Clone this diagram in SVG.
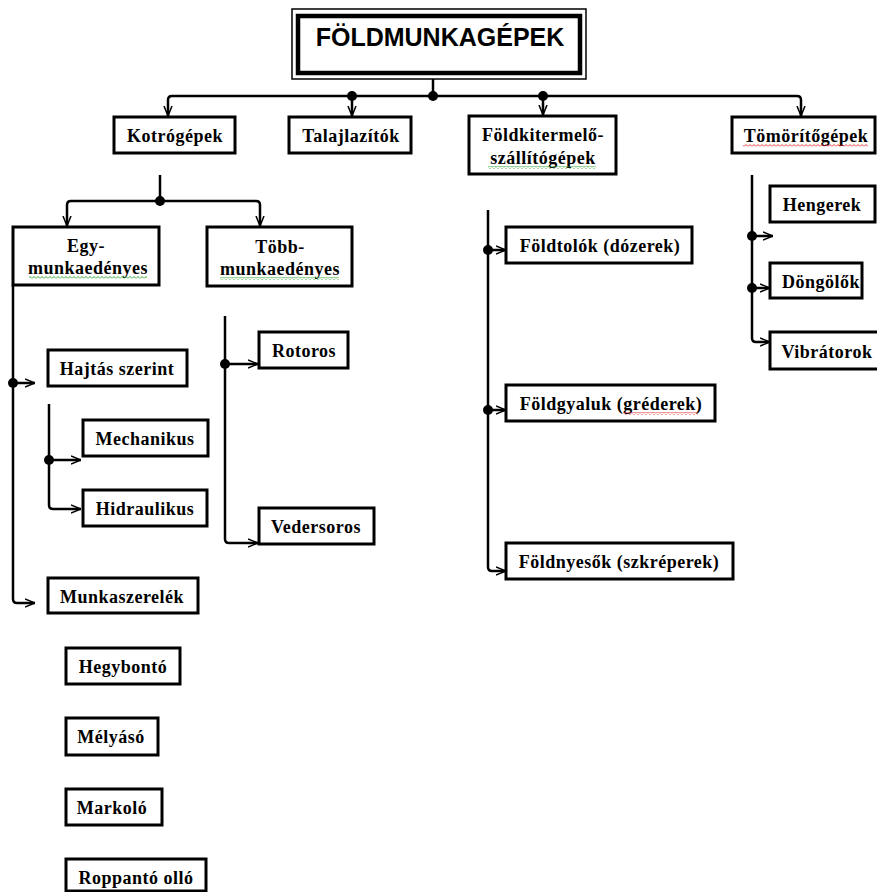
<svg xmlns="http://www.w3.org/2000/svg" width="877" height="892" viewBox="0 0 877 892">
<style>
.box{fill:#fff;stroke:#000;stroke-width:3}
.t{font-family:"Liberation Serif","Times New Roman",serif;font-weight:bold;font-size:18px;letter-spacing:0.5px;fill:#000;text-anchor:middle}
.ln{fill:none;stroke:#000;stroke-width:2.5}
.ar{marker-end:url(#ah)}
.dot{fill:#000}
</style>
<defs>
<marker id="ah" viewBox="0 0 10 10" markerWidth="10" markerHeight="10" markerUnits="userSpaceOnUse" refX="10" refY="5" orient="auto">
<path d="M0,1 L10,5 L0,9" fill="none" stroke="#000" stroke-width="1.5"/>
</marker>
<pattern id="wr" width="4" height="3" patternUnits="userSpaceOnUse">
<path d="M0,2.5 L2,0.5 L4,2.5" fill="none" stroke="#e02020" stroke-width="0.9"/>
</pattern>
<pattern id="wg" width="4" height="3" patternUnits="userSpaceOnUse">
<path d="M0,2.5 L2,0.5 L4,2.5" fill="none" stroke="#20a020" stroke-width="0.9"/>
</pattern>
</defs>
<rect width="877" height="892" fill="#fff"/>

<g id="connectors">
<path class="ln" d="M433,79 V96"/>
<path class="ln ar" d="M433,96 H172 Q168,96 168,100 V116"/>
<path class="ln ar" d="M433,96 H797 Q801,96 801,100 V116"/>
<path class="ln ar" d="M352,96 V116"/>
<path class="ln ar" d="M543,96 V115"/>
<circle class="dot" cx="352" cy="96" r="5"/>
<circle class="dot" cx="433" cy="96" r="5"/>
<circle class="dot" cx="543" cy="96" r="5"/>

<path class="ln" d="M160,175 V201"/>
<path class="ln ar" d="M160,201 H71 Q67,201 67,205 V226"/>
<path class="ln ar" d="M160,201 H256 Q260,201 260,205 V226"/>
<circle class="dot" cx="160" cy="201" r="5"/>

<path class="ln ar" d="M13,285 V599 Q13,603 17,603 H35"/>
<path class="ln ar" d="M13,383 H35"/>
<circle class="dot" cx="13" cy="383" r="5"/>

<path class="ln ar" d="M49,404 V505 Q49,509 53,509 H81"/>
<path class="ln ar" d="M49,460 H81"/>
<circle class="dot" cx="49" cy="460" r="5"/>

<path class="ln ar" d="M225,316 V539 Q225,543 229,543 H258"/>
<path class="ln ar" d="M225,364 H258"/>
<circle class="dot" cx="225" cy="364" r="5"/>

<path class="ln ar" d="M488,210 V567 Q488,571 492,571 H506"/>
<path class="ln ar" d="M488,250 H506"/>
<path class="ln ar" d="M488,410 H506"/>
<circle class="dot" cx="488" cy="250" r="5"/>
<circle class="dot" cx="488" cy="410" r="5"/>

<path class="ln ar" d="M752,175 V338 Q752,342 756,342 H770"/>
<path class="ln ar" d="M752,236 H773"/>
<path class="ln ar" d="M752,288 H770"/>
<circle class="dot" cx="752" cy="236" r="5"/>
<circle class="dot" cx="752" cy="288" r="5"/>
</g>

<g id="title">
<rect x="292" y="9" width="294" height="70" fill="#fff" stroke="#000" stroke-width="1.5"/>
<rect x="298" y="16" width="282" height="57" fill="#fff" stroke="#000" stroke-width="4.5"/>
<text x="440" y="46" text-anchor="middle" font-family="'Liberation Sans',Arial,sans-serif" font-weight="bold" font-size="25" fill="#000">FÖLDMUNKAGÉPEK</text>
</g>

<g id="kotrogepek"><rect class="box" x="114" y="117" width="121" height="36"/><text class="t" x="175" y="142">Kotrógépek</text></g>
<g id="talajlazitok"><rect class="box" x="289" y="117" width="122" height="36"/><text class="t" x="351" y="142">Talajlazítók</text></g>
<g id="foldkitermelo"><rect class="box" x="469" y="116" width="147" height="58"/><text class="t" x="543" y="141">Földkitermelő-</text><text class="t" x="543" y="164">szállítógépek</text><rect x="488" y="166" width="108" height="3" fill="url(#wg)"/></g>
<g id="tomoritogepek"><rect class="box" x="732" y="117" width="143" height="36"/><text class="t" x="806" y="142">Tömörítőgépek</text><rect x="743" y="144" width="125" height="3" fill="url(#wr)"/></g>

<g id="egy"><rect class="box" x="13" y="227" width="146" height="58"/><text class="t" x="86" y="252">Egy-</text><text class="t" x="88" y="274">munkaedényes</text><rect x="29" y="276" width="118" height="3" fill="url(#wg)"/></g>
<g id="tobb"><rect class="box" x="207" y="227" width="145" height="59"/><text class="t" x="280" y="253">Több-</text><text class="t" x="280" y="275">munkaedényes</text><rect x="220" y="277" width="119" height="3" fill="url(#wg)"/></g>

<g id="hajtas"><rect class="box" x="48" y="350" width="139" height="36"/><text class="t" x="117" y="375">Hajtás szerint</text></g>
<g id="mechanikus"><rect class="box" x="83" y="420" width="125" height="36"/><text class="t" x="145" y="445">Mechanikus</text></g>
<g id="hidraulikus"><rect class="box" x="83" y="490" width="124" height="36"/><text class="t" x="145" y="515">Hidraulikus</text></g>
<g id="munkaszerelek"><rect class="box" x="48" y="578" width="150" height="35"/><text class="t" x="122" y="603">Munkaszerelék</text></g>
<g id="hegybonto"><rect class="box" x="66" y="648" width="114" height="36"/><text class="t" x="123" y="673">Hegybontó</text></g>
<g id="melyaso"><rect class="box" x="66" y="718" width="92" height="37"/><text class="t" x="111" y="743">Mélyásó</text></g>
<g id="markolo"><rect class="box" x="66" y="789" width="96" height="36"/><text class="t" x="112" y="814">Markoló</text></g>
<g id="roppanto"><rect class="box" x="66" y="859" width="140" height="32"/><text class="t" x="136" y="884">Roppantó olló</text></g>

<g id="rotoros"><rect class="box" x="259" y="332" width="89" height="36"/><text class="t" x="304" y="357">Rotoros</text></g>
<g id="vedersoros"><rect class="box" x="259" y="508" width="115" height="36"/><text class="t" x="316" y="533">Vedersoros</text></g>

<g id="foldtolok"><rect class="box" x="506" y="227" width="186" height="36"/><text class="t" x="600" y="252">Földtolók (dózerek)</text></g>
<g id="foldgyaluk"><rect class="box" x="506" y="385" width="209" height="36"/><text class="t" x="611" y="410">Földgyaluk (gréderek)</text><rect x="623" y="412" width="75" height="3" fill="url(#wr)"/></g>
<g id="foldnyesok"><rect class="box" x="506" y="543" width="227" height="36"/><text class="t" x="619" y="568">Földnyesők (szkréperek)</text></g>

<g id="hengerek"><rect class="box" x="770" y="186" width="105" height="36"/><text class="t" x="822" y="211">Hengerek</text></g>
<g id="dongolok"><rect class="box" x="770" y="263" width="92" height="35"/><text class="t" x="821" y="288">Döngölők</text></g>
<g id="vibratorok"><rect class="box" x="770" y="332" width="110" height="37"/><text class="t" x="827" y="358">Vibrátorok</text></g>
</svg>
